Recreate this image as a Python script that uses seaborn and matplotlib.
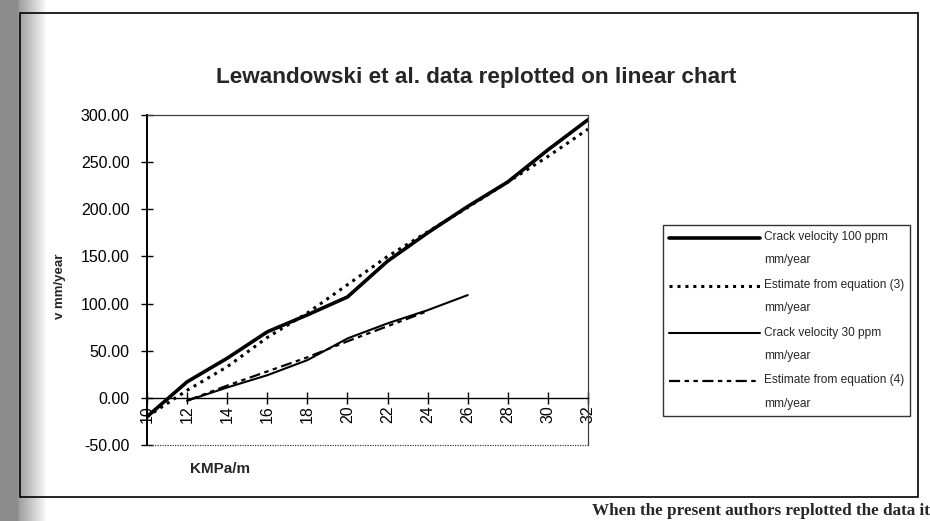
import numpy as np
import pandas as pd
import matplotlib
matplotlib.use("Agg")
import matplotlib.pyplot as plt
from matplotlib.patches import Rectangle
from matplotlib.ticker import FormatStrFormatter
import seaborn as sns

# data
k_all = [10, 12, 14, 16, 18, 20, 22, 24, 26, 28, 30, 32]
v_100ppm = [-20, 17, 42, 70, 88, 107, 145, 175, 203, 229, 263, 295]
est_eq3 = [-20, 8, 33, 64, 90, 120, 150, 176, 202, 229, 256, 285]

k_30 = [12, 14, 16, 18, 20, 22, 24, 26]
v_30ppm = [-3, 11, 24, 40, 63, 79, 93, 109]

k_eq4 = [12, 14, 16, 18, 20, 22, 24]
est_eq4 = [-3, 13, 28, 43, 60, 76, 92]

labels = [
    "Crack velocity 100 ppm\nmm/year",
    "Estimate from equation (3)\nmm/year",
    "Crack velocity 30 ppm\nmm/year",
    "Estimate from equation (4)\nmm/year",
]
x_ticks = list(range(10, 33, 2))
y_ticks = [-50, 0, 50, 100, 150, 200, 250, 300]

sns.set_theme(style="white")
plt.rcParams['font.family'] = ['Liberation Sans', 'DejaVu Sans']

W, H = 930, 521
fig = plt.figure(figsize=(W / 100, H / 100), dpi=100)
fig.patch.set_facecolor("white")

# grey scan edge on the left
edge = fig.add_axes([0, 0, 45 / W, 1], zorder=-5)
grad = np.concatenate([np.full(18, 0.55), np.linspace(0.62, 0.97, 27)])
edge.imshow(np.tile(grad, (10, 1)), cmap="gray", vmin=0, vmax=1, aspect="auto")
edge.axis("off")

# outer chart frame
fig.patches.append(Rectangle((20 / W, 1 - 497 / H), (918 - 20) / W, (497 - 13) / H,
                             transform=fig.transFigure, fill=False,
                             ec="black", lw=1.2))

ax = fig.add_axes([147 / W, 1 - 445 / H, (588 - 147) / W, (445 - 115) / H])
ax.set_facecolor("white")

sns.lineplot(x=k_all, y=v_100ppm, ax=ax, color="black", lw=2.6, legend=False)
sns.lineplot(x=k_all, y=est_eq3, ax=ax, color="black", lw=2.2,
             linestyle=(0, (1, 1.6)), legend=False)
sns.lineplot(x=k_30, y=v_30ppm, ax=ax, color="black", lw=1.5, legend=False)
sns.lineplot(x=k_eq4, y=est_eq4, ax=ax, color="black", lw=1.6,
             linestyle=(0, (5, 2, 2, 2, 2, 2)), legend=False)
handles = ax.lines[:4]

ax.set_xlim(10, 32)
ax.set_ylim(-50, 300)
ax.set_xticks(x_ticks)
ax.set_yticks(y_ticks)
ax.yaxis.set_major_formatter(FormatStrFormatter('%.2f'))
ax.set_xlabel("")
ax.set_ylabel("")

# Excel style: x axis crosses at zero, dotted plot-area border
ax.spines['bottom'].set_position(('data', 0))
ax.spines['bottom'].set_color("black")
ax.spines['bottom'].set_linewidth(1.0)
ax.spines['left'].set_color("black")
ax.spines['left'].set_linewidth(1.4)
for side in ['top', 'right']:
    ax.spines[side].set_color("0.25")
    ax.spines[side].set_linewidth(0.9)
    ax.spines[side].set_linestyle((0, (1, 1)))
ax.plot([0, 1], [0, 0], transform=ax.transAxes, color="0.25", lw=0.9,
        ls=(0, (1, 1)), clip_on=False)

ax.tick_params(axis='both', direction='inout', length=9, width=1.0,
               colors="black", labelsize=11.5)
ax.tick_params(axis='x', labelrotation=90, pad=1)
ax.tick_params(axis='y', pad=8)
ax.xaxis.set_ticks_position('bottom')
ax.yaxis.set_ticks_position('left')

fig.text(476 / W, 1 - 77 / H, "Lewandowski et al. data replotted on linear chart",
         ha='center', va='center', fontsize=16.2, fontweight='bold')
fig.text(220 / W, 1 - 469 / H, "KMPa/m", ha='center', va='center',
         fontsize=11, fontweight='bold')
fig.text(60 / W, 1 - 286 / H, "v mm/year", ha='center', va='center',
         rotation=90, fontsize=9.5, fontweight='bold')

leg = fig.legend(handles, labels, loc='upper left',
                 bbox_to_anchor=(663 / W, 1 - 225 / H), frameon=True,
                 fancybox=False, edgecolor="black", fontsize=8.6,
                 handlelength=7.6, handletextpad=0.35, labelspacing=1.05,
                 borderpad=0.5, borderaxespad=0)
leg.get_frame().set_linewidth(1.0)
leg.get_frame().set_facecolor("white")
for t in leg.get_texts():
    t.set_linespacing(2.25)
for line in leg.get_lines():
    yd = line.get_ydata()
    line.set_ydata([yy + 8 for yy in yd])

fig.text(1.0, 1 - 511 / H, "When the present authors replotted the data it",
         ha='right', va='center', fontsize=12.3, fontweight='bold',
         family=['Liberation Serif', 'DejaVu Serif'])

fig.savefig("out.png", dpi=100)
